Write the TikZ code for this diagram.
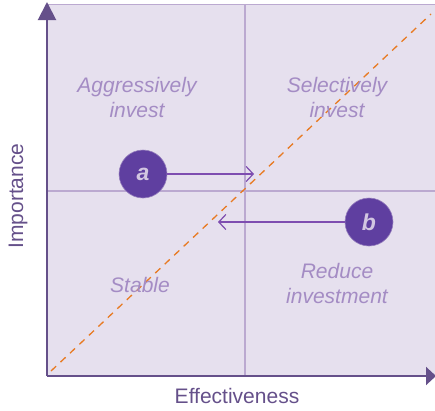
\documentclass[tikz,border=0pt]{standalone}
\usepackage{fontspec}
\setmainfont{Liberation Sans}
\usetikzlibrary{arrows.meta}

\definecolor{panelbg}{HTML}{E6E0EE}
\definecolor{axiscol}{HTML}{65508A}
\definecolor{gridcol}{HTML}{BBA9D0}
\definecolor{labelcol}{HTML}{A48CC4}
\definecolor{bubblecol}{HTML}{5F3FA0}
\definecolor{movecol}{HTML}{7E4DB0}
\definecolor{diagcol}{HTML}{E87A22}

\begin{document}
\begin{tikzpicture}[x=1pt, y=-1pt,
    quadrant/.style={text=labelcol, align=center, font=\fontsize{21}{25}\selectfont\itshape},
    item/.style={circle, fill=bubblecol, draw=gridcol!60!bubblecol, line width=0.6pt, minimum size=48pt, inner sep=0pt,
        text=labelcol!50!white, font=\fontsize{23}{23}\selectfont\bfseries\itshape},
    moveline/.style={draw=movecol, line width=1.4pt, -{Straight Barb[length=7pt, width=15pt, line width=1.2pt]}}]
    \useasboundingbox (0,0) rectangle (435,410);

    % panel and grid
    \fill[panelbg] (47,4) rectangle (435,376);
    \draw[gridcol, line width=1pt] (47,4) -- (435,4);
    \coordinate (vtop) at (245,4);
    \coordinate (vbot) at (245,376);
    \coordinate (hleft) at (47,191);
    \coordinate (hright) at (435,191);
    \draw[gridcol, line width=1.2pt] (vtop) -- (vbot);
    \draw[gridcol, line width=1.2pt] (hleft) -- (hright);

    % axes
    \coordinate (O) at (47,376);
    \coordinate (ytip) at (47,2);
    \coordinate (xtip) at (436,376);
    \draw[axiscol, line width=2pt, -{Triangle[length=18pt, width=18pt]}] (O) -- (ytip);
    \draw[axiscol, line width=2pt, -{Triangle[length=10pt, width=18pt]}] (O) -- (xtip);

    % diagonal
    \coordinate (d0) at (51,371);
    \coordinate (d1) at (431,14);
    \draw[diagcol, line width=1.3pt, dash pattern=on 7pt off 6pt] (d0) -- (d1);

    % quadrant labels
    \node[quadrant] (aggr) at (137,97) {Aggressively\\invest};
    \node[quadrant] (sel) at (337,97) {Selectively\\invest};
    \node[quadrant] (stab) at (140,285) {Stable};
    \node[quadrant] (red) at (337,283) {Reduce\\investment};

    % axis labels
    \node[text=axiscol, font=\fontsize{21}{24}\selectfont] (xlab) at (237,396) {Effectiveness};
    \node[text=axiscol, font=\fontsize{21}{24}\selectfont, rotate=90] (ylab) at (18,196) {Importance};

    % items and moves
    \node[item] (a) at (143,174) {a};
    \node[item] (b) at (369,222) {b};
    \coordinate (aend) at (254,174);
    \coordinate (bend) at (218,222);
    \draw[moveline] (a) -- (aend);
    \draw[moveline] (b) -- (bend);
\end{tikzpicture}
\end{document}
